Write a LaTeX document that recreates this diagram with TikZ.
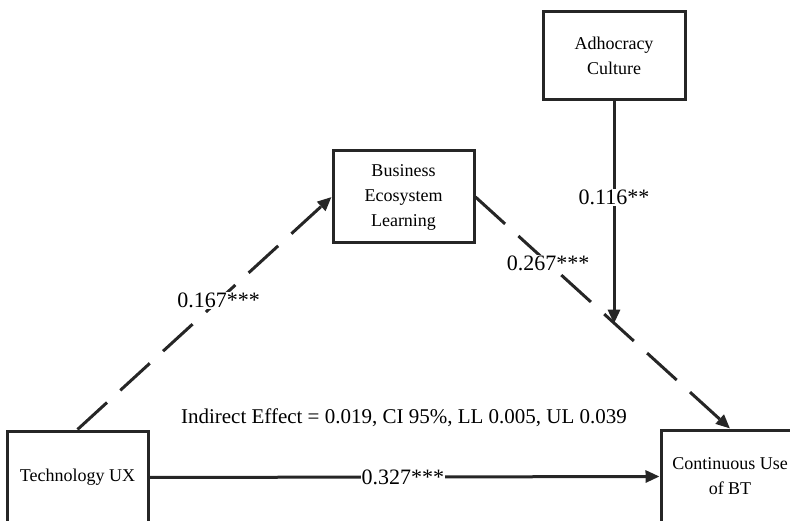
\documentclass[tikz,border=0pt]{standalone}
\usepackage{fontspec}
\setmainfont{Liberation Serif}
\usetikzlibrary{arrows.meta,calc}
\tikzset{
  boxnode/.style={draw=black!85, line width=3pt, align=center, inner sep=0pt,
    font=\fontsize{18}{25}\selectfont},
  conn/.style={line width=3pt, draw=black!85, -{Triangle[length=14pt,width=12pt]}},
  dashconn/.style={conn, dash pattern=on 40pt off 18pt},
  coef/.style={fill=white, inner sep=1pt, font=\fontsize{22}{26}\selectfont},
  note/.style={inner sep=0pt, font=\fontsize{21}{24}\selectfont}
}
\begin{document}
\begin{tikzpicture}[x=1pt,y=-1pt]
\useasboundingbox (0,0) rectangle (790,521);
\clip (0,0) rectangle (790,521);
\node[boxnode, minimum width=141pt, minimum height=93pt] (tech) at (77.5,477.5) {Technology UX};
\node[boxnode, minimum width=138pt, minimum height=93pt] (cont) at (730,476.5) {Continuous Use\\of BT};
\node[boxnode, minimum width=141pt, minimum height=92pt] (bel) at (403.5,197) {Business\\Ecosystem\\Learning};
\node[boxnode, minimum width=142pt, minimum height=88pt] (adh) at (614,56) {Adhocracy\\Culture};
\draw[dashconn] (tech.north) -- node[coef, pos=0.556] {0.167***} (bel.west);
\draw[dashconn] (bel.east) -- node[coef, pos=0.285] {0.267***} (cont.north);
\coordinate (m) at ($(bel.east)!0.547!(cont.north)$);
\draw[conn] (adh.south) -- node[coef, pos=0.433] {0.116**} (adh.south |- m);
\draw[conn] (tech.east) -- node[coef, pos=0.497] {0.327***} (cont.west);
\node[note] (ind) at (404,418) {Indirect Effect = 0.019, CI 95\%, LL 0.005, UL 0.039};
\end{tikzpicture}
\end{document}
